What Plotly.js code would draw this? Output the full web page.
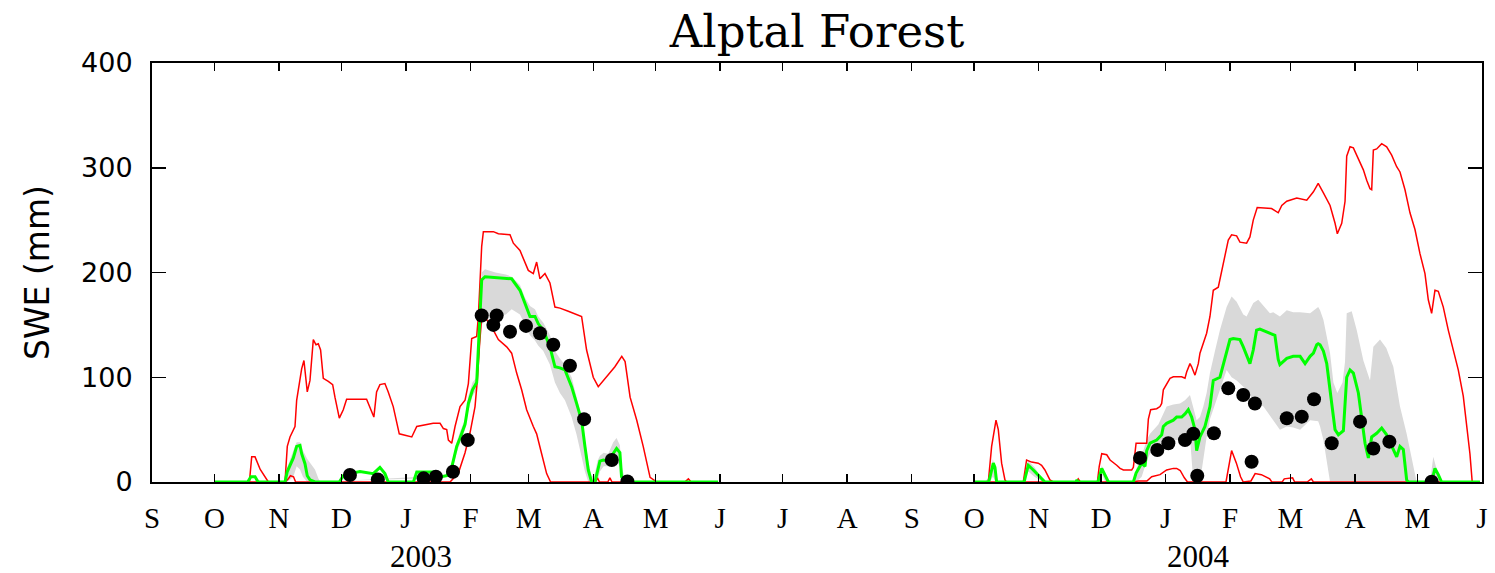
<!DOCTYPE html>
<html>
<head>
<meta charset="utf-8">
<script src="https://cdn.plot.ly/plotly-3.0.1.min.js"></script>
<style>html,body{margin:0;padding:0;background:#fff}#chart{width:1495px;height:573px}</style>
</head>
<body>
<div id="chart"></div>
<script>
// x values are days since 2002-09-01
const monthLabels = ['S','O','N','D','J','F','M','A','M','J','J','A','S','O','N','D','J','F','M','A','M','J'];
const yTicks = [0,100,200,300,400];
const yearLabels = [['2003',129],['2004',503]];

const redHi1 = [[30,0],[46.8,0],[47.9,24],[49.5,24],[52,12],[55.9,0],[63.9,0],[65,34],[66.3,43],[68.7,53],[69.5,78],[70.8,97],[71.9,108],[73,116],[74,94],[74.6,86],[75.9,97],[76.7,116],[77.5,136],[78.8,131],[79.9,132],[81,126],[82.3,99],[84.7,96],[86.8,93],[87.9,81],[90,61],[91.9,69],[93.5,79],[103.1,79],[104.7,72],[106.6,62],[107.9,86],[109.5,93],[111.9,94],[113.5,86],[115.9,72],[117.5,59],[118.8,46],[124.8,43],[127.2,53],[135.1,56],[138.4,56],[140,51],[141.6,50],[142.4,40],[144,37],[145.6,53],[148,72],[150.4,78],[152,94],[153.6,137],[156,139],[156.8,158],[158.4,225],[159.2,239],[164,239],[166.4,237],[172,236],[173.6,228],[176.8,221],[180.8,202],[183.2,199],[184.8,210],[186.4,194],[188.8,199],[191.2,190],[193.6,167],[196,166],[200,163],[204,160],[206.4,158],[208.8,126],[212,100],[214.4,91],[216.8,97],[220,105],[222.4,110],[225.7,120],[227.3,115],[229.7,81],[232.9,59],[236,34],[237.7,18],[239.3,4.5],[242.5,0],[256,0],[257.7,3],[259,0],[271,0]];
const redHi2 = [[395,0],[401.8,0],[403.4,34],[405,56],[405.5,59],[406.6,50],[407.4,34],[408.2,18],[409.8,2],[410.6,0],[418.6,0],[420.2,21],[422.6,19],[425.8,18],[427.4,16],[429,11.5],[431.4,2],[433,0],[444,0],[445,3],[446,0],[454.2,0],[455.1,15],[456.3,27],[458.7,26],[460.3,21],[463.5,16],[465.1,13],[466.7,11.5],[470.7,11.5],[471.5,14],[472.8,37],[477.9,37],[478.7,60],[479.8,69],[482.7,70],[484.3,72],[485.1,75],[485.9,88],[487.5,93],[489.1,99],[490.7,100.5],[494.7,100.5],[496.3,99],[497.1,105],[498.7,113],[499.5,110],[501.1,102],[502.7,113],[503.5,123],[505.1,132],[506.7,142],[508.3,158],[509.9,183],[512.3,186],[513.9,202],[515.5,218],[517.1,231],[518.7,236],[521.1,235],[522.7,229],[525.9,228],[527.5,234],[529.1,250],[531,262],[535.5,261],[537.9,261],[539.5,259],[541.1,257],[542.8,264],[545.2,268],[550,271],[553.1,270],[554.8,269],[558,277],[560.3,285],[562.8,276],[566,264],[568.4,247],[569.5,237],[571.6,247],[573.2,268],[574,311],[575.6,320],[577.2,319],[579.6,309],[582,298],[583.6,288],[585.2,280],[586,279],[586.8,317],[588.4,318],[590.8,323],[593.2,320],[595.6,312],[598,301],[599.6,296],[602,279],[604.4,257],[606.8,241],[609.2,218],[611.6,199],[613.2,174],[614.8,161],[616.4,183],[618,182],[620.4,167],[622.8,145],[625.2,126],[627.6,107],[630,82],[631.6,56],[633.2,27],[634.3,0],[638,0]];
const redLo1 = [[30,0],[64,0],[65.5,3],[66.5,6],[68,5],[69,0],[143.2,0],[147.2,8.6],[150.4,28],[152.8,47],[155.2,72],[156.3,97],[157.3,129],[158.4,158],[160.8,155],[164,145],[166.4,136],[170.4,129],[172.8,123],[175.2,104],[177.6,88],[180,69],[183.2,53],[184.8,46],[187.2,27],[189.6,8],[191.5,0],[213,0],[214,4],[215,0],[219,0],[220,4],[221,0],[271,0]];
const redLo2 = [[395,0],[471,0],[474,1],[478,1],[480.3,5],[484.3,7],[487.5,11.5],[490.7,13],[492.3,13],[494,11],[496,4],[497.5,0],[516,0],[517.5,15],[518.7,30],[521,18],[523,5],[524.3,0],[528,1],[530,8],[533,7],[537,3],[538,0],[543,0],[544,3],[548,4],[549,0],[555,0],[557,3],[558,0],[638,0]];
const green1 = [[30,0],[46,0],[47.5,5],[49.5,5],[51,0],[63.9,0],[65,10],[67.9,23],[69.5,34],[71.1,35],[71.9,27],[73.5,17.5],[74.6,6],[75.9,2],[78.3,0],[90,0],[91.9,6],[95,8],[99.9,10],[106.3,8],[109.5,14],[111.9,8],[113.5,0],[125.6,0],[127.2,9.5],[135.1,9.5],[139,5],[141.6,6],[144,14],[146.4,34],[148,42],[150.4,55],[152,75],[154,88],[156,95],[157.3,150],[158.4,193],[160,196],[172.8,194],[176.8,183],[179.2,170],[181.6,158],[184,158],[185.6,151],[188,145],[191.2,129],[193.6,110],[196,109],[198.4,107],[201.6,91],[204,75],[206.4,59],[208,34],[209.6,11.5],[211.2,0],[212.8,0],[215.2,20],[216.8,21],[219.2,20],[221.6,28],[223.2,32],[224.8,28],[225.6,5],[227.2,0],[272,0]];
const green2 = [[395,0],[402,0],[403,8],[404.2,18],[405,14],[405.8,0],[419,0],[419.4,3],[421,16],[423.4,11.5],[426.6,5],[429,0],[444,0],[444.3,2],[445,0],[454.5,0],[456.3,13],[457.4,8],[459.5,0],[471.5,0],[472.8,8.6],[475.5,18],[477.1,15],[477.9,30],[479.5,37],[482.7,40],[485.1,45],[485.9,53],[487.5,56],[490.7,59],[492.3,62],[494.7,62],[496.3,65],[497.9,69],[499.5,62],[501.1,50],[501.9,30],[503.5,43],[505.9,53],[508.3,72],[509.9,97],[513.1,100],[516.3,126],[517.9,136],[519.5,137],[522.7,136],[524.3,129],[525.9,120],[527.5,113],[529.1,126],[530.7,145],[532.3,146],[534.7,144],[537.9,142],[539.5,140],[541.1,117],[541.9,112],[545.2,118],[548.3,120],[551.6,120],[554,113],[556.4,120],[558,123],[559.6,131],[560.3,132],[561.2,131],[562.8,125],[564.4,113],[565.2,99],[566.8,75],[568.4,50],[570,45],[572.4,49],[574,100],[575.6,107],[577.2,104],[579.6,85],[581.2,59],[582.8,37],[584.4,23],[586,43],[588.4,46.5],[590.8,51.5],[593.2,45],[595.6,35],[598,24],[599.6,34],[601.2,31],[602.8,2],[603.6,0],[614.8,0],[616.4,13],[618,7],[619.6,0],[638,0]];
// spread band: [day, low, high]
const band1 = [[63.9,0,0],[65,0,14],[67.9,5,30],[69.5,15,38],[71.1,12,38],[72.5,5,30],[74.6,0,22],[76,0,18],[78.3,0,12],[80,0,3],[81,0,0],[139,4,6],[141.6,5,8],[144,10,18],[146.4,28,38],[148,36,48],[150.4,50,60],[152,68,82],[154,82,95],[156,88,100],[157.3,120,158],[158.4,150,200],[160,155,203],[165,158,200],[170,160,198],[172.8,165,196],[176.8,160,188],[179.2,150,176],[181.6,140,168],[184,135,165],[185.6,130,158],[188,125,152],[191.2,112,140],[193.6,95,125],[196,85,118],[198.4,78,112],[201.6,62,100],[204,45,82],[206.4,25,62],[208,10,40],[209.6,0,20],[211.2,0,5],[212.8,0,8],[214,0,20],[215.2,10,25],[217,15,28],[219.2,15,27],[221.6,18,38],[223.2,20,42],[224.8,15,35],[225.6,0,15],[227.2,0,3],[228,0,0]];
const band2 = [[400,0,0],[402.5,0,5],[404,5,22],[405.5,0,8],[406.5,0,0],[419,0,0],[421,10,20],[424,5,14],[428,0,3],[429,0,0],[455,0,0],[456.3,8,16],[458,0,6],[459.5,0,0],[471.5,0,0],[472.8,0,12],[475.5,5,25],[477.9,20,40],[479.5,27,46],[483.5,35,55],[487.5,43,72],[490.7,40,74],[493.9,40,75],[496.3,42,78],[498.7,43,83],[500.3,0,70],[501.9,0,59],[503.5,0,62],[505.1,20,72],[506.7,43,85],[508.3,60,104],[510.7,75,125],[513.1,88,145],[516.3,107,167],[518.7,100,177],[521.1,97,172],[524.3,91,160],[525.9,88,158],[529.1,78,171],[531.5,75,174],[534,72,168],[537.1,64,161],[538.7,59,162],[541.9,50,158],[545.2,53,164],[548.3,52,162],[551.6,50,162],[556.4,59,161],[560.3,58,167],[561.2,53,164],[562.8,40,155],[564.4,20,140],[566,0,123],[567.6,0,95],[569.5,0,85],[572,0,95],[573.2,0,115],[574,0,161],[576.4,0,163],[578.8,0,145],[582,0,116],[585.2,0,97],[586.8,0,129],[590,0,136],[593,0,128],[596.4,0,110],[599.6,0,72],[602.8,0,46],[606,0,15],[607.6,0,0],[614,0,0],[615.6,0,24],[617.5,0,10],[618.8,0,0]];
const obs = [[95.1,6.7],[108.5,2.5],[130.5,3.5],[136.4,5],[144.6,9.8],[151.7,40],[158.4,159],[164,150],[165.6,159],[172,143.5],[179.7,149],[186.4,142],[192.8,131],[200.8,111],[207.6,60],[220.9,21],[228.4,0.5],[474.7,23],[483,30.5],[488.3,37],[496.3,40],[500.3,46],[502.2,6],[510.2,46.5],[517.1,89.4],[524.3,83],[528.3,19.4],[529.9,75],[545.2,60.8],[552.4,62.4],[558.3,79],[566.8,37],[580.4,57.6],[586.8,32],[594.5,38.5],[614.8,0.3]];

const T0 = Date.UTC(2002,8,1);
function dt(d){ return new Date(T0 + d*86400000).toISOString().slice(0,19).replace('T',' '); }
function xs(a){ return a.map(p=>dt(p[0])); }
function ys(a,i){ return a.map(p=>p[i||1]); }
function bandTrace(b){
  const x = b.map(p=>dt(p[0])).concat(b.slice().reverse().map(p=>dt(p[0])));
  const y = b.map(p=>p[2]).concat(b.slice().reverse().map(p=>p[1]));
  return {x:x,y:y,type:'scatter',mode:'lines',fill:'toself',fillcolor:'#d9d9d9',line:{width:0,color:'#d9d9d9'},hoverinfo:'skip',showlegend:false};
}
function lineTrace(a,color,w){
  return {x:xs(a),y:ys(a),type:'scatter',mode:'lines',line:{color:color,width:w},showlegend:false};
}
const tickvals = monthLabels.map((m,i)=>new Date(Date.UTC(2002,8+i,1)).toISOString().slice(0,10));

const data = [
  bandTrace(band1), bandTrace(band2),
  lineTrace(redHi1,'#ff0000',1.5), lineTrace(redHi2,'#ff0000',1.5),
  lineTrace(redLo1,'#ff0000',1.5), lineTrace(redLo2,'#ff0000',1.5),
  lineTrace(green1,'#00ff00',3), lineTrace(green2,'#00ff00',3),
  {x:xs(obs),y:ys(obs),type:'scatter',mode:'markers',marker:{color:'#000',size:14},showlegend:false}
];

const layout = {
  width:1495, height:573,
  margin:{l:152,r:13,t:63,b:91},
  paper_bgcolor:'#fff', plot_bgcolor:'#fff',
  showlegend:false,
  title:{text:'Alptal Forest',font:{family:'DejaVu Serif',size:45,color:'#000'},x:0.5465,xanchor:'center',yref:'container',y:0.945,yanchor:'middle'},
  xaxis:{type:'date',range:[dt(0),dt(639)],tickvals:tickvals,ticktext:monthLabels,ticks:'inside',ticklen:8,tickwidth:1.5,tickcolor:'#000',
    showline:true,linewidth:2,linecolor:'#000',mirror:'ticks',showgrid:false,zeroline:false,
    tickfont:{family:'Liberation Serif',size:29,color:'#000'},ticklabelstandoff:9},
  yaxis:{range:[0,400],tickvals:yTicks,ticks:'inside',ticklen:14,tickwidth:1.5,tickcolor:'#000',
    showline:true,linewidth:2,linecolor:'#000',mirror:'ticks',showgrid:false,zeroline:false,
    tickfont:{family:'DejaVu Sans',size:27,color:'#000'},ticklabelstandoff:12,
    title:{text:'SWE (mm)',font:{family:'DejaVu Sans',size:33,color:'#000'},standoff:22}},
  annotations: yearLabels.map(y=>({text:y[0],x:dt(y[1]),xref:'x',y:-0.178,yref:'paper',yanchor:'middle',xanchor:'center',showarrow:false,font:{family:'Liberation Serif',size:31,color:'#000'}}))
};
Plotly.newPlot('chart',data,layout,{staticPlot:true,displayModeBar:false});
</script>
</body>
</html>
